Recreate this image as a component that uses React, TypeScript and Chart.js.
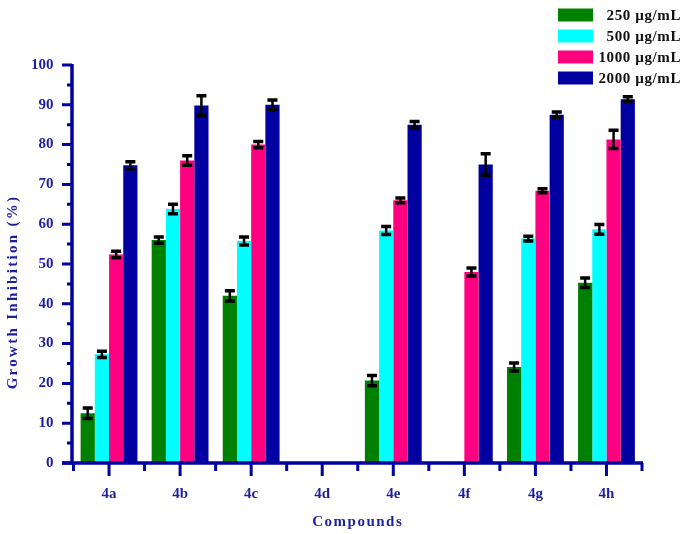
import React, { useEffect, useRef } from "react";
import { Chart, registerables } from "chart.js";

Chart.register(...registerables);

const categories = ["4a", "4b", "4c", "4d", "4e", "4f", "4g", "4h"];
const seriesLabels = ["250 µg/mL", "500 µg/mL", "1000 µg/mL", "2000 µg/mL"];
const seriesColors = ["#008000", "#00FFFF", "#FF0080", "#0000A0"];

const v250 = [12.5, 56, 42, null, 20.7, null, 24.1, 45.3];
const v500 = [27.3, 63.8, 55.8, null, 58.4, null, 56.4, 58.7];
const v1000 = [52.4, 76, 80, null, 66, 48, 68.4, 81.3];
const v2000 = [74.8, 89.8, 90, null, 85, 75, 87.5, 91.4];

const e250 = [1.3, 0.8, 1.3, null, 1.3, null, 1.0, 1.2];
const e500 = [0.8, 1.2, 1.0, null, 1.0, null, 0.6, 1.2];
const e1000 = [0.8, 1.2, 0.8, null, 0.6, 1.0, 0.5, 2.3];
const e2000 = [0.9, 2.5, 1.2, null, 0.8, 2.7, 0.7, 0.6];

const yTicks = [0, 10, 20, 30, 40, 50, 60, 70, 80, 90, 100];

const values = [v250, v500, v1000, v2000];
const errors = [e250, e500, e1000, e2000];

const AXIS = "#0000A0";
const TEXT = "#1E1EA0";
const FONT = "'Liberation Serif', 'Times New Roman', serif";

const customPlugin = {
  id: "custom",
  afterDatasetsDraw(chart: any) {
    const ctx = chart.ctx;
    const xs = chart.scales.x;
    const ys = chart.scales.y;
    ctx.save();
    // error bars
    ctx.strokeStyle = "#000";
    chart.data.datasets.forEach((ds: any, i: number) => {
      const meta = chart.getDatasetMeta(i);
      const errs = errors[i];
      meta.data.forEach((el: any, j: number) => {
        const v = ds.data[j];
        const e = errs[j];
        if (v == null || e == null) return;
        const x = el.x;
        const yt = ys.getPixelForValue(v + e);
        const yb = ys.getPixelForValue(v - e);
        ctx.lineWidth = 2.5;
        ctx.beginPath();
        ctx.moveTo(x, yt);
        ctx.lineTo(x, yb);
        ctx.stroke();
        ctx.lineWidth = 3.5;
        ctx.beginPath();
        ctx.moveTo(x - 5, yt);
        ctx.lineTo(x + 5, yt);
        ctx.moveTo(x - 5, yb);
        ctx.lineTo(x + 5, yb);
        ctx.stroke();
      });
    });

    // axes
    const x0 = chart.chartArea.left - 1.5;
    const y0 = ys.getPixelForValue(0);
    const yTop = ys.getPixelForValue(100);
    const xRight = chart.chartArea.right;
    ctx.strokeStyle = AXIS;
    ctx.lineWidth = 3.5;
    ctx.beginPath();
    ctx.moveTo(x0, yTop - 1);
    ctx.lineTo(x0, y0);
    ctx.moveTo(62, y0);
    ctx.lineTo(xRight + 1, y0);
    ctx.stroke();
    ctx.lineWidth = 3;
    ctx.beginPath();
    for (let v = 0; v <= 100; v += 5) {
      const y = ys.getPixelForValue(v);
      const len = v % 10 === 0 ? 10 : 5;
      ctx.moveTo(x0 - len, y);
      ctx.lineTo(x0, y);
    }
    const step = xs.getPixelForValue(1) - xs.getPixelForValue(0);
    for (let i = 0; i < categories.length; i++) {
      const c = xs.getPixelForValue(i);
      ctx.moveTo(c, y0);
      ctx.lineTo(c, y0 + 13);
    }
    for (let i = 0; i <= categories.length; i++) {
      const b = xs.getPixelForValue(0) - step / 2 + i * step;
      ctx.moveTo(b, y0);
      ctx.lineTo(b, y0 + 8);
    }
    ctx.stroke();

    // axis titles
    ctx.fillStyle = TEXT;
    ctx.font = `bold 15px ${FONT}`;
    ctx.textAlign = "center";
    ctx.textBaseline = "middle";
    (ctx as any).letterSpacing = "1.5px";
    ctx.fillText("Compounds", (chart.chartArea.left + chart.chartArea.right) / 2, 522);
    ctx.save();
    ctx.translate(13, 292);
    ctx.rotate(-Math.PI / 2);
    (ctx as any).letterSpacing = "2.3px";
    ctx.fillText("Growth Inhibition (%)", 0, 0);
    ctx.restore();

    // legend
    ctx.font = `bold 15px ${FONT}`;
    (ctx as any).letterSpacing = "0.6px";
    ctx.textAlign = "right";
    seriesLabels.forEach((lab, i) => {
      const cy = 15 + i * 21;
      ctx.fillStyle = seriesColors[i];
      ctx.fillRect(558, cy - 6.5, 35, 13);
      ctx.fillStyle = "#111";
      ctx.fillText(lab, 681, cy + 1);
    });
    ctx.restore();
  },
};

export default function App() {
  const ref = useRef<HTMLCanvasElement | null>(null);
  useEffect(() => {
    if (!ref.current) return;
    const chart = new Chart(ref.current, {
      type: "bar",
      data: {
        labels: categories,
        datasets: seriesLabels.map((lab, i) => ({
          label: lab,
          data: values[i] as any,
          backgroundColor: seriesColors[i],
          borderWidth: 0,
          categoryPercentage: 0.8,
          barPercentage: 1.0,
        })),
      },
      options: {
        animation: false,
        responsive: true,
        maintainAspectRatio: false,
        layout: { padding: { left: 0, right: 43, top: 65, bottom: 0 } },
        plugins: { legend: { display: false }, tooltip: { enabled: false } },
        scales: {
          x: {
            grid: { display: false },
            border: { display: false },
            ticks: {
              color: TEXT,
              padding: 14,
              font: { family: FONT, weight: "bold", size: 15 },
            },
            afterFit: (s: any) => {
              s.height = 71;
            },
          },
          y: {
            min: 0,
            max: 100,
            grid: { display: false },
            border: { display: false },
            afterBuildTicks: (s: any) => {
              s.ticks = yTicks.map((v) => ({ value: v }));
            },
            ticks: {
              color: TEXT,
              padding: 12,
              font: { family: FONT, weight: "bold", size: 15 },
            },
            afterFit: (s: any) => {
              s.width = 73.5;
            },
          },
        },
      },
      plugins: [customPlugin],
    });
    return () => chart.destroy();
  }, []);
  return (
    <div style={{ position: "absolute", left: 0, top: 0, width: 685, height: 534, background: "#fff" }}>
      <canvas ref={ref} />
    </div>
  );
}
